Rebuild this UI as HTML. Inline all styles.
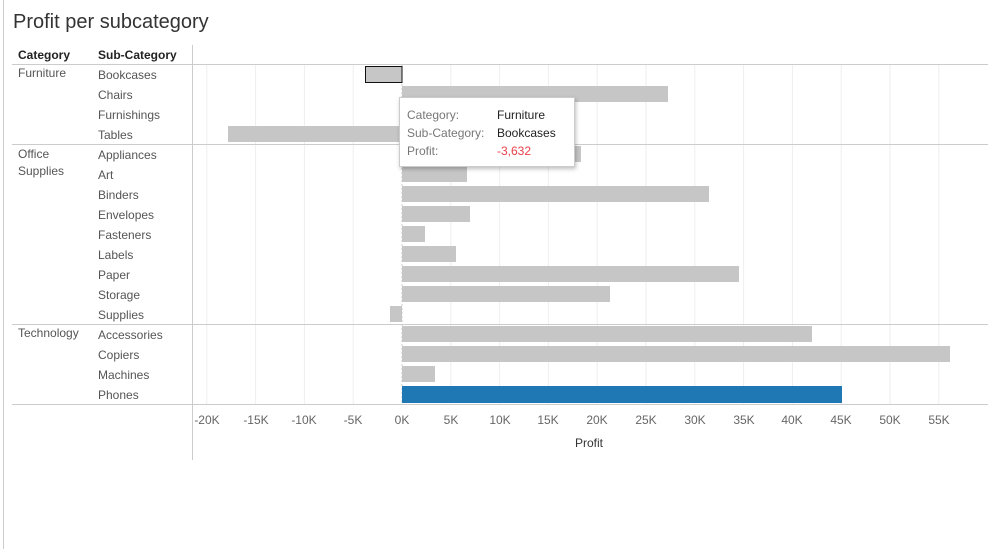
<!DOCTYPE html>
<html><head><meta charset="utf-8"><style>
body{margin:0;width:988px;height:549px;background:#fff;font-family:"Liberation Sans",sans-serif;overflow:hidden;position:relative}
.a{position:absolute}
.t{font-size:12px;color:#555;white-space:nowrap}
</style></head><body>
<div class="a" style="left:3px;top:0;width:1px;height:549px;background:#ccc"></div>
<div class="a" style="left:13px;top:11px;font-size:20px;color:#333">Profit per subcategory</div>
<svg class="a" style="left:0;top:0" width="988" height="549">
<g stroke="#eee" stroke-width="1">
<line x1="206.8" y1="64" x2="206.8" y2="404"/><line x1="255.6" y1="64" x2="255.6" y2="404"/><line x1="304.4" y1="64" x2="304.4" y2="404"/><line x1="353.2" y1="64" x2="353.2" y2="404"/><line x1="450.8" y1="64" x2="450.8" y2="404"/><line x1="499.6" y1="64" x2="499.6" y2="404"/><line x1="548.4" y1="64" x2="548.4" y2="404"/><line x1="597.2" y1="64" x2="597.2" y2="404"/><line x1="646" y1="64" x2="646" y2="404"/><line x1="694.8" y1="64" x2="694.8" y2="404"/><line x1="743.6" y1="64" x2="743.6" y2="404"/><line x1="792.4" y1="64" x2="792.4" y2="404"/><line x1="841.2" y1="64" x2="841.2" y2="404"/><line x1="890" y1="64" x2="890" y2="404"/><line x1="938.8" y1="64" x2="938.8" y2="404"/>
</g>
<line x1="402" y1="64" x2="402" y2="404" stroke="#ccc" stroke-dasharray="2,2"/>
<g fill="#c6c6c6">
<rect x="365.5" y="66.5" width="36.5" height="16" stroke="#111" stroke-width="1"/>
<rect x="402" y="86" width="266" height="16"/>
<rect x="402" y="106" width="127" height="16"/>
<rect x="228" y="126" width="174" height="16"/>
<rect x="402" y="146" width="179" height="16"/>
<rect x="402" y="166" width="65" height="16"/>
<rect x="402" y="186" width="307" height="16"/>
<rect x="402" y="206" width="68" height="16"/>
<rect x="402" y="226" width="23" height="16"/>
<rect x="402" y="246" width="54" height="16"/>
<rect x="402" y="266" width="337" height="16"/>
<rect x="402" y="286" width="208" height="16"/>
<rect x="390" y="306" width="12" height="16"/>
<rect x="402" y="326" width="410" height="16"/>
<rect x="402" y="346" width="548" height="16"/>
<rect x="402" y="366" width="33" height="16"/>
</g>
<rect x="402" y="386" width="440" height="17" fill="#1f77b4"/>
<g stroke="#ccc"><line x1="12" y1="64.5" x2="988" y2="64.5"/><line x1="12" y1="144.5" x2="988" y2="144.5"/><line x1="12" y1="324.5" x2="988" y2="324.5"/><line x1="12" y1="404.5" x2="988" y2="404.5"/><line x1="192.5" y1="45" x2="192.5" y2="460"/></g>
<g font-family="Liberation Sans, sans-serif" font-size="12" fill="#666" text-anchor="middle">
<text x="207" y="424">-20K</text><text x="256" y="424">-15K</text><text x="304" y="424">-10K</text><text x="353" y="424">-5K</text><text x="402" y="424">0K</text><text x="451" y="424">5K</text><text x="500" y="424">10K</text><text x="548" y="424">15K</text><text x="597" y="424">20K</text><text x="646" y="424">25K</text><text x="695" y="424">30K</text><text x="744" y="424">35K</text><text x="792" y="424">40K</text><text x="841" y="424">45K</text><text x="890" y="424">50K</text><text x="939" y="424">55K</text>
<text x="589" y="447" fill="#333" font-size="12">Profit</text>
</g>
</svg>
<div class="a t" style="left:18px;top:48px;color:#222;font-weight:bold">Category</div>
<div class="a t" style="left:98px;top:48px;color:#222;font-weight:bold">Sub-Category</div>
<div class="a t" style="left:18px;top:66px">Furniture</div>
<div class="a t" style="left:18px;top:146px;line-height:17px">Office<br>Supplies</div>
<div class="a t" style="left:18px;top:326px">Technology</div>
<div class="a t" style="left:98px;top:65px;line-height:20px">Bookcases<br>Chairs<br>Furnishings<br>Tables<br>Appliances<br>Art<br>Binders<br>Envelopes<br>Fasteners<br>Labels<br>Paper<br>Storage<br>Supplies<br>Accessories<br>Copiers<br>Machines<br>Phones</div>
<div class="a" style="left:399px;top:97px;width:174px;height:68px;background:#fff;border:1px solid #ccc;box-shadow:1px 2px 4px rgba(0,0,0,.25)"></div>
<div class="a t" style="left:407px;top:106px;line-height:18px;color:#777">Category:<br>Sub-Category:<br>Profit:</div>
<div class="a t" style="left:497px;top:106px;line-height:18px;color:#222">Furniture<br>Bookcases<br><span style="color:#e8404a">-3,632</span></div>
</body></html>
